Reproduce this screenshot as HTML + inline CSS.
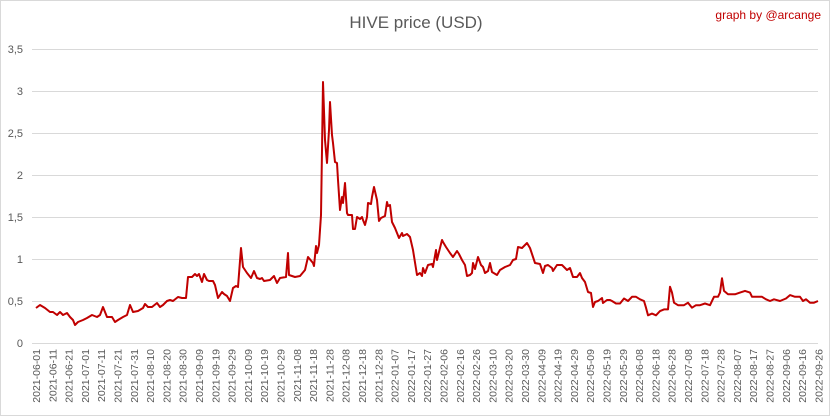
<!DOCTYPE html>
<html><head><meta charset="utf-8"><style>
body{margin:0;background:#fff}
svg{display:block;font-family:"Liberation Sans",sans-serif}
</style></head><body>
<svg id="s" width="832" height="417" xmlns="http://www.w3.org/2000/svg">
<rect x="0.5" y="0.5" width="829" height="415" fill="#fff" stroke="#d9d9d9"/>
<text x="416" y="28" text-anchor="middle" font-size="17" fill="#595959">HIVE price (USD)</text>
<text x="821" y="19" text-anchor="end" font-size="12" fill="#c00000">graph by @arcange</text>
<g id="grid" stroke="#d9d9d9" stroke-width="1"></g>
<g id="yl" font-size="11" fill="#595959" text-anchor="end"></g>
<g id="xl" font-size="10.5" fill="#595959"></g>
<polyline id="ln" fill="none" stroke="#c00000" stroke-width="2" stroke-linejoin="round"/>
</svg>
<script>
var ns="http://www.w3.org/2000/svg";
function el(t,a,p,txt){var e=document.createElementNS(ns,t);for(var k in a)e.setAttribute(k,a[k]);if(txt)e.textContent=txt;document.getElementById(p).appendChild(e);}
var labs=["0","0,5","1","1,5","2","2,5","3","3,5"];
for(var i=0;i<8;i++){var y=343-i*42;el("line",{x1:32,x2:818,y1:y+0.5,y2:y+0.5},"grid");el("text",{x:23,y:y+4},"yl",labs[i]);}
var xs="2021-06-01 2021-06-11 2021-06-21 2021-07-01 2021-07-11 2021-07-21 2021-07-31 2021-08-10 2021-08-20 2021-08-30 2021-09-09 2021-09-19 2021-09-29 2021-10-09 2021-10-19 2021-10-29 2021-11-08 2021-11-18 2021-11-28 2021-12-08 2021-12-18 2021-12-28 2022-01-07 2022-01-17 2022-01-27 2022-02-06 2022-02-16 2022-02-26 2022-03-10 2022-03-20 2022-03-30 2022-04-09 2022-04-19 2022-04-29 2022-05-09 2022-05-19 2022-05-29 2022-06-08 2022-06-18 2022-06-28 2022-07-08 2022-07-18 2022-07-28 2022-08-07 2022-08-17 2022-08-27 2022-09-06 2022-09-16 2022-09-26".split(" ");
for(var j=0;j<xs.length;j++){var x=36+j*16.3;
el("text",{x:0,y:0,transform:"translate("+(x+4)+",349) rotate(-90)","text-anchor":"end"},"xl",xs[j]);}
function Y(v){return 343-v*84;}
var a=[[36,308],[40,305],[45,308],[50,312],[53,312],[57,315],[60,312],[63,315],[67,313],[70,317],[73,320],[75,325],[78,322],[83,320],[87,318],[92,315],[97,317],[100,315],[103,307],[107,317],[112,317],[115,322],[118,320],[123,317],[127,315],[130,305],[133,312],[138,311],[143,308],[145,304],[148,307],[152,307],[157,303],[160,307],[163,305],[167,301]];
var b=[[170,300],[173,301],[178,297],[182,298],[186,298],[188,277],[192,277],[195,274],[197,276],[199,274],[202,282],[204,274],[207,280],[209,281],[213,281],[215,285],[218,298],[222,292],[224,294],[227,296],[230,301],[233,288],[236,286],[238,287],[241,248],[243,267],[247,273],[251,278],[254,271],[257,278],[260,279],[262,278],[264,281],[270,280],[274,276],[277,283],[280,278],[286,277],[288,253],[289,275],[295,277],[300,276],[305,270],[308,257],[313,263],[314,266],[316,246],[317,253],[319,245],[321,215],[322,150],[323,82],[325,140],[327,163],[329,130],[330,102],[332,135],[333,143],[335,162],[337,163],[338,180],[340,210],[342,197],[343,203],[345,183],[347,213],[348,215],[352,215],[353,229],[355,229],[357,217],[360,219],[362,217],[363,220],[365,225],[367,217],[368,203],[371,204],[372,197],[374,187],[377,200],[379,221],[381,218],[385,216],[387,202],[388,206],[390,205],[392,222],[395,228],[397,233],[399,238],[402,233],[403,236],[407,234],[410,237],[413,250],[417,275],[420,273],[422,276],[423,268],[425,273],[428,265],[432,264],[433,267],[436,250],[437,260],[442,240],[443,242],[446,247],[450,253],[453,257],[457,251],[459,254],[462,260],[465,265],[467,276],[470,275],[472,273],[473,263],[475,269],[478,257],[481,265],[483,267],[485,273],[488,271],[490,263],[492,272],[497,275],[500,270],[505,267],[510,265],[513,260],[516,259],[518,247],[522,248],[523,247],[527,243],[530,248],[533,257],[535,263],[540,264],[543,273],[545,266],[548,265],[552,268],[553,271],[557,265],[562,265],[565,268],[567,270],[570,268],[573,277],[577,277],[580,273],[582,278],[585,282],[588,292],[591,293],[593,307],[595,302],[598,301],[602,298],[603,303],[607,300],[610,300]];
var c=[[612,.5],[616,.47],[620,.47],[624,.53],[628,.5],[632,.55],[636,.55],[640,.52],[644,.5],[646,.42],[648,.33],[652,.35],[656,.33],[660,.38],[664,.4],[668,.4],[670,.67],[672,.6],[674,.48],[678,.45],[684,.45],[688,.48],[692,.42],[696,.45],[700,.45],[705,.47],[710,.45],[714,.55],[718,.55],[720,.6],[722,.77],[724,.62],[728,.58],[735,.58],[740,.6],[745,.62],[750,.6],[752,.55],[756,.55],[762,.55],[766,.52],[770,.5],[774,.52],[780,.5],[786,.53],[790,.57],[795,.55],[800,.55],[803,.5],[806,.52],[810,.48],[814,.48],[818,.5]].map(function(q){return [q[0],Y(q[1])];});
var all=a.concat(b).concat(c);
document.getElementById("ln").setAttribute("points",all.map(function(q){return q[0].toFixed(1)+","+q[1].toFixed(1);}).join(" "));
</script>
</body></html>
